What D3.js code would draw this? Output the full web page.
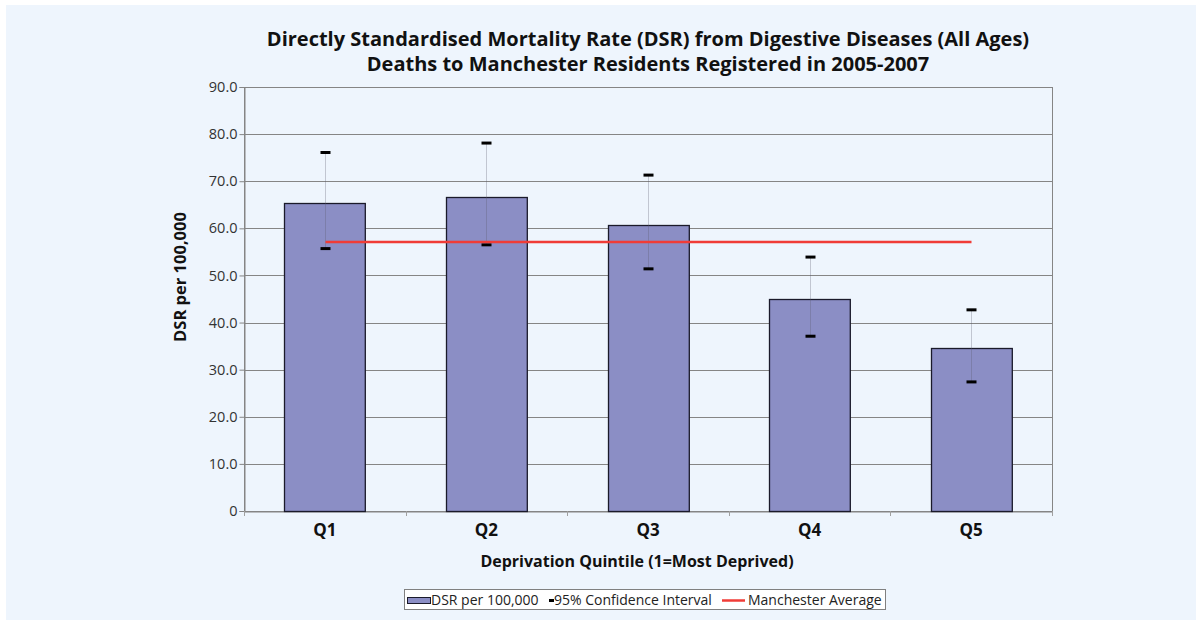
<!DOCTYPE html>
<html>
<head>
<meta charset="utf-8">
<script src="https://cdn.jsdelivr.net/npm/d3@7"></script>
<style>
  body { margin: 0; background: #fff; }
  svg { display: block; font-family: "Open Sans", "DejaVu Sans", sans-serif; }
</style>
</head>
<body>
<svg id="chart" width="1200" height="622"></svg>
<script>
// data
var categories = ["Q1", "Q2", "Q3", "Q4", "Q5"];
var dsr = [65.3, 66.6, 60.7, 44.9, 34.5];
var ciLower = [55.7, 56.5, 51.4, 37.1, 27.4];
var ciUpper = [76.1, 78.1, 71.3, 53.9, 42.7];
var manchesterAverage = 57.1;
var yTicks = [0, 10, 20, 30, 40, 50, 60, 70, 80, 90];

var svg = d3.select("#chart");

var margin = {left: 244, right: 148, top: 87, bottom: 111};
var width = 1200 - margin.left - margin.right,
    height = 622 - margin.top - margin.bottom;

// chart area background
svg.append("rect")
    .attr("x", 6).attr("y", 5)
    .attr("width", 1190).attr("height", 615)
    .attr("fill", "#eef5fd");

var x = d3.scaleBand()
    .domain(categories)
    .range([0, width])
    .paddingInner(0.5)
    .paddingOuter(0.25);

var y = d3.scaleLinear()
    .domain([0, 90])
    .range([height, 0]);

var g = svg.append("g")
    .attr("transform", "translate(" + margin.left + "," + margin.top + ")");

// gridlines
g.append("g")
    .selectAll("line")
    .data(yTicks)
    .enter().append("line")
    .attr("x1", 0).attr("x2", width)
    .attr("y1", function(d) { return Math.round(y(d)) + 0.5; })
    .attr("y2", function(d) { return Math.round(y(d)) + 0.5; })
    .attr("stroke", "#858585")
    .attr("stroke-width", 1);

// plot border
g.append("rect")
    .attr("x", 0.5).attr("y", 0.5)
    .attr("width", width).attr("height", height)
    .attr("fill", "none")
    .attr("stroke", "#858585");

// y axis
var yAxis = g.append("g")
    .attr("transform", "translate(0.5,0)")
    .call(d3.axisLeft(y)
        .tickValues(yTicks)
        .tickSize(5)
        .tickFormat(function(d) { return d === 0 ? "0" : d3.format(".1f")(d); }));
yAxis.select(".domain").attr("stroke", "#858585");
yAxis.selectAll(".tick line").attr("stroke", "#858585");
yAxis.selectAll("text")
    .attr("font-size", 14.5)
    .attr("fill", "#333")
    .attr("font-family", "Open Sans, DejaVu Sans, sans-serif")
    .attr("x", -7);

// x axis
var xAxis = g.append("g")
    .attr("transform", "translate(0," + (height + 0.5) + ")")
    .call(d3.axisBottom(x).tickSize(0).tickPadding(12));
xAxis.select(".domain").attr("stroke", "#858585");
xAxis.selectAll("text")
    .attr("font-size", 17)
    .attr("font-weight", "bold")
    .attr("fill", "#111")
    .attr("font-family", "Open Sans, DejaVu Sans, sans-serif");

// category separator ticks
g.append("g")
    .selectAll("line")
    .data(d3.range(categories.length + 1))
    .enter().append("line")
    .attr("x1", function(i) { return Math.round(i * width / categories.length) + 0.5; })
    .attr("x2", function(i) { return Math.round(i * width / categories.length) + 0.5; })
    .attr("y1", height).attr("y2", height + 5)
    .attr("stroke", "#a0a0a0");

// bars
g.append("g")
    .selectAll("rect")
    .data(dsr)
    .enter().append("rect")
    .attr("x", function(d, i) { return Math.round(x(categories[i])) + 0.5; })
    .attr("y", function(d) { return Math.round(y(d)) + 0.5; })
    .attr("width", x.bandwidth())
    .attr("height", function(d) { return height - Math.round(y(d)); })
    .attr("fill", "#8b8ec5")
    .attr("stroke", "#1a1a2a")
    .attr("stroke-width", 1.3);

// confidence intervals
var cx = function(i) { return Math.round(x(categories[i]) + x.bandwidth() / 2) + 0.5; };
var ci = g.append("g");
ci.selectAll("line.stem")
    .data(categories)
    .enter().append("line")
    .attr("class", "stem")
    .attr("x1", function(d, i) { return cx(i); })
    .attr("x2", function(d, i) { return cx(i); })
    .attr("y1", function(d, i) { return y(ciUpper[i]); })
    .attr("y2", function(d, i) { return y(ciLower[i]); })
    .attr("stroke", "rgba(90,90,110,0.3)")
    .attr("stroke-width", 1);
[ciLower, ciUpper].forEach(function(arr) {
    ci.append("g")
        .selectAll("line")
        .data(arr)
        .enter().append("line")
        .attr("x1", function(d, i) { return cx(i) - 5; })
        .attr("x2", function(d, i) { return cx(i) + 5; })
        .attr("y1", function(d) { return y(d); })
        .attr("y2", function(d) { return y(d); })
        .attr("stroke", "#000")
        .attr("stroke-width", 3);
});

// Manchester average line
g.append("line")
    .attr("x1", cx(0))
    .attr("x2", cx(categories.length - 1))
    .attr("y1", y(manchesterAverage))
    .attr("y2", y(manchesterAverage))
    .attr("stroke", "#f03c37")
    .attr("stroke-width", 2.5);

// titles
var title = svg.append("text")
    .attr("text-anchor", "middle")
    .attr("font-size", 20)
    .attr("font-weight", "bold")
    .attr("fill", "#111");
title.append("tspan").attr("x", 648).attr("y", 46)
    .text("Directly Standardised Mortality Rate (DSR) from Digestive Diseases (All Ages)");
title.append("tspan").attr("x", 648).attr("y", 71)
    .text("Deaths to Manchester Residents Registered in 2005-2007");

svg.append("text")
    .attr("transform", "translate(186,277) rotate(-90)")
    .attr("text-anchor", "middle")
    .attr("font-size", 16.5)
    .attr("font-weight", "bold")
    .attr("fill", "#111")
    .text("DSR per 100,000");

svg.append("text")
    .attr("x", 637).attr("y", 567)
    .attr("text-anchor", "middle")
    .attr("font-size", 16)
    .attr("font-weight", "bold")
    .attr("fill", "#111")
    .text("Deprivation Quintile (1=Most Deprived)");

// legend
var legend = svg.append("g").attr("transform", "translate(404,589)");
legend.append("rect")
    .attr("x", 0.5).attr("y", 0.5)
    .attr("width", 481).attr("height", 20)
    .attr("fill", "#fff")
    .attr("stroke", "#808080");
legend.append("rect")
    .attr("x", 3.5).attr("y", 8.5)
    .attr("width", 23).attr("height", 6)
    .attr("fill", "#8b8ec5")
    .attr("stroke", "#1a1a2a");
legend.append("line")
    .attr("x1", 145).attr("x2", 150)
    .attr("y1", 11.5).attr("y2", 11.5)
    .attr("stroke", "#000").attr("stroke-width", 3);
legend.append("line")
    .attr("x1", 318).attr("x2", 341)
    .attr("y1", 11.5).attr("y2", 11.5)
    .attr("stroke", "#f03c37").attr("stroke-width", 2.5);
var legendText = [
    {x: 27, t: "DSR per 100,000"},
    {x: 150, t: "95% Confidence Interval"},
    {x: 344, t: "Manchester Average"}
];
legend.selectAll("text.lbl")
    .data(legendText)
    .enter().append("text")
    .attr("class", "lbl")
    .attr("x", function(d) { return d.x; })
    .attr("y", 16)
    .attr("font-size", 14)
    .attr("fill", "#222")
    .text(function(d) { return d.t; });
</script>
</body>
</html>
